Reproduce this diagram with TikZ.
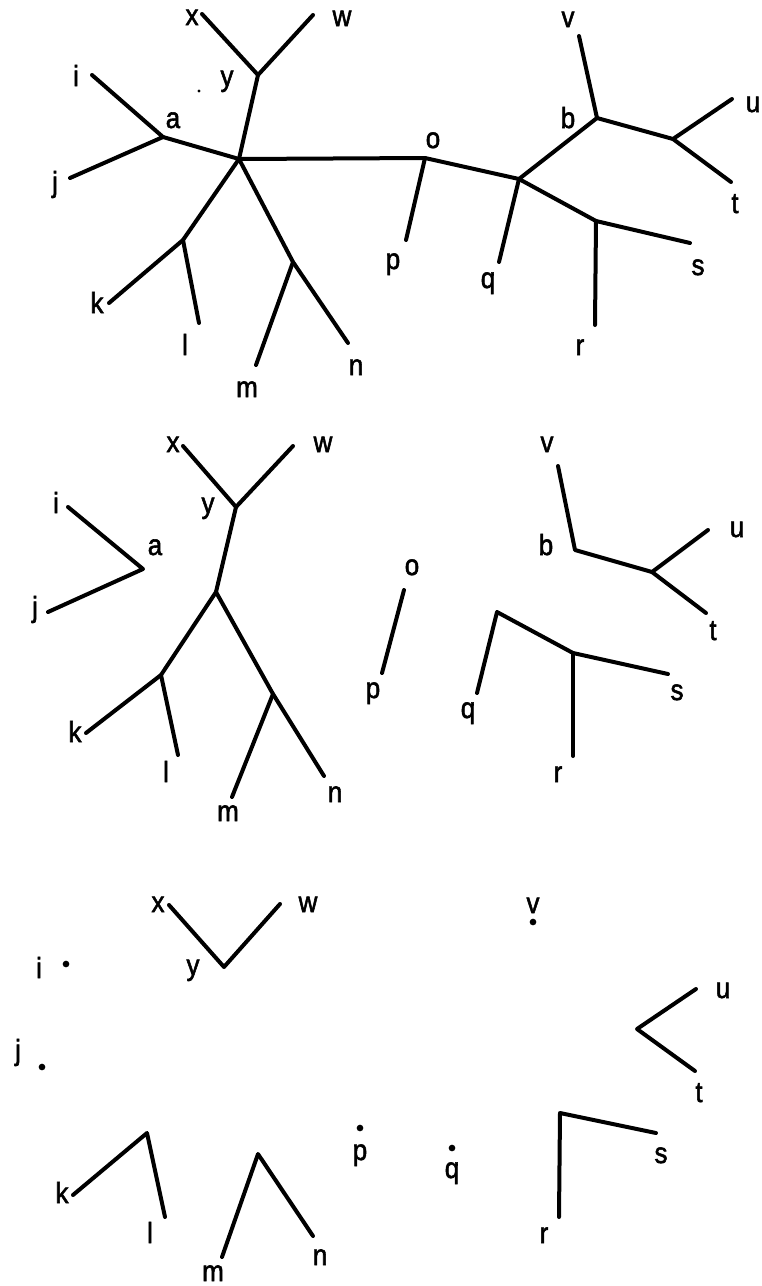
\documentclass[tikz,border=0pt]{standalone}
\usepackage{fontspec}
\setmainfont{Liberation Sans}
\newfontfamily\labfont{Liberation Sans}[FakeBold=2]
\newcommand{\tallx}[1]{\scalebox{1}[1.12]{#1}}
\begin{document}
\begin{tikzpicture}[x=0.75pt,y=-0.75pt,
  edge/.style={line width=3pt, line cap=round, line join=round},
  lab/.style={anchor=base, inner sep=0pt, font=\labfont\fontsize{19.5}{19.5}\selectfont},
  dotnode/.style={circle, fill=black, inner sep=0pt, minimum size=5pt},
  speck/.style={circle, fill=black, inner sep=0pt, minimum size=2.4pt}]
\useasboundingbox (0,0) rectangle (762,1286);

% ---------------- top tree ----------------
\coordinate (Ax) at (202,14);   \coordinate (Aw) at (313,15);
\coordinate (Ay) at (258,75);   \coordinate (Ac) at (239,159);
\coordinate (Ai) at (92,75);    \coordinate (Aa) at (163,137);
\coordinate (Aj) at (70,178);
\coordinate (Akl) at (183,240); \coordinate (Ak) at (109,303);
\coordinate (Al) at (199,323);
\coordinate (Amn) at (293,262); \coordinate (Am) at (256,365);
\coordinate (An) at (348,343);
\coordinate (Ao) at (425,158);  \coordinate (Ap) at (406,240);
\coordinate (AQ) at (519,179);  \coordinate (Aq) at (499,262);
\coordinate (Ab) at (597,118);  \coordinate (Av) at (579,36);
\coordinate (Aut) at (673,139); \coordinate (Au) at (732,99);
\coordinate (At) at (731,182);
\coordinate (Ars) at (596,221); \coordinate (As) at (690,243);
\coordinate (Ar) at (595,325);

\draw[edge] (Ax) -- (Ay) -- (Aw);
\draw[edge] (Ay) -- (Ac);
\draw[edge] (Ai) -- (Aa) -- (Aj);
\draw[edge] (Aa) -- (Ac);
\draw[edge] (Ac) -- (Akl) -- (Ak);
\draw[edge] (Akl) -- (Al);
\draw[edge] (Ac) -- (Amn) -- (Am);
\draw[edge] (Amn) -- (An);
\draw[edge] (Ac) -- (Ao) -- (Ap);
\draw[edge] (Ao) -- (AQ) -- (Aq);
\draw[edge] (AQ) -- (Ab) -- (Av);
\draw[edge] (Ab) -- (Aut) -- (Au);
\draw[edge] (Aut) -- (At);
\draw[edge] (AQ) -- (Ars) -- (As);
\draw[edge] (Ars) -- (Ar);
\node[speck] (Aspeck) at (199,91) {};

\node[lab] (LAx) at (192,25) {\tallx{x}};
\node[lab] (LAw) at (342,26) {\tallx{w}};
\node[lab] (LAi) at (76,86) {\tallx{i}};
\node[lab] (LAy) at (227,86) {\tallx{y}};
\node[lab] (LAa) at (173,128) {\tallx{a}};
\node[lab] (LAj) at (55,192) {\tallx{j}};
\node[lab] (LAk) at (97,313) {\tallx{k}};
\node[lab] (LAl) at (185,355) {\tallx{l}};
\node[lab] (LAm) at (247,397) {\tallx{m}};
\node[lab] (LAn) at (356,375) {\tallx{n}};
\node[lab] (LAo) at (433,148) {\tallx{o}};
\node[lab] (LAp) at (393,269) {\tallx{p}};
\node[lab] (LAq) at (488,288) {\tallx{q}};
\node[lab] (LAb) at (568,128) {\tallx{b}};
\node[lab] (LAv) at (568,27) {\tallx{v}};
\node[lab] (LAu) at (753,112) {\tallx{u}};
\node[lab] (LAt) at (735,213) {\tallx{t}};
\node[lab] (LAs) at (698,275) {\tallx{s}};
\node[lab] (LAr) at (580,355) {\tallx{r}};

% ---------------- middle ----------------
\coordinate (Bx) at (183,446);  \coordinate (Bw) at (293,446);
\coordinate (By) at (236,507);  \coordinate (Bc) at (216,592);
\coordinate (Bkl) at (161,675); \coordinate (Bk) at (86,733);
\coordinate (Bl) at (178,755);
\coordinate (Bmn) at (273,694); \coordinate (Bm) at (232,797);
\coordinate (Bn) at (324,776);
\coordinate (Bi) at (68,507);   \coordinate (Ba) at (143,569);
\coordinate (Bj) at (48,612);
\coordinate (Bo) at (404,590);  \coordinate (Bp) at (382,673);
\coordinate (Bv) at (558,466);  \coordinate (Bb) at (575,550);
\coordinate (But) at (652,572); \coordinate (Bu) at (708,530);
\coordinate (Bt) at (706,613);
\coordinate (BQ) at (497,612);  \coordinate (Bq) at (477,693);
\coordinate (Brs) at (573,653); \coordinate (Bs) at (668,674);
\coordinate (Br) at (573,756);

\draw[edge] (Bx) -- (By) -- (Bw);
\draw[edge] (By) -- (Bc);
\draw[edge] (Bc) -- (Bkl) -- (Bk);
\draw[edge] (Bkl) -- (Bl);
\draw[edge] (Bc) -- (Bmn) -- (Bm);
\draw[edge] (Bmn) -- (Bn);
\draw[edge] (Bi) -- (Ba) -- (Bj);
\draw[edge] (Bo) -- (Bp);
\draw[edge] (Bv) -- (Bb) -- (But) -- (Bu);
\draw[edge] (But) -- (Bt);
\draw[edge] (Bq) -- (BQ) -- (Brs) -- (Bs);
\draw[edge] (Brs) -- (Br);

\node[lab] (LBx) at (173,452) {\tallx{x}};
\node[lab] (LBw) at (323,452) {\tallx{w}};
\node[lab] (LBi) at (56,513) {\tallx{i}};
\node[lab] (LBy) at (208,513) {\tallx{y}};
\node[lab] (LBa) at (155,555) {\tallx{a}};
\node[lab] (LBj) at (35,617) {\tallx{j}};
\node[lab] (LBk) at (75,742) {\tallx{k}};
\node[lab] (LBl) at (166,782) {\tallx{l}};
\node[lab] (LBm) at (228,821) {\tallx{m}};
\node[lab] (LBn) at (335,802) {\tallx{n}};
\node[lab] (LBp) at (373,698) {\tallx{p}};
\node[lab] (LBo) at (412,575) {\tallx{o}};
\node[lab] (LBv) at (547,452) {\tallx{v}};
\node[lab] (LBb) at (546,555) {\tallx{b}};
\node[lab] (LBu) at (737,537) {\tallx{u}};
\node[lab] (LBt) at (713,640) {\tallx{t}};
\node[lab] (LBq) at (468,718) {\tallx{q}};
\node[lab] (LBs) at (677,700) {\tallx{s}};
\node[lab] (LBr) at (558,782) {\tallx{r}};

% ---------------- bottom ----------------
\coordinate (Cx) at (169,905);  \coordinate (Cw) at (280,904);
\coordinate (Cy) at (224,967);
\coordinate (Ckl) at (147,1133); \coordinate (Ck) at (73,1195);
\coordinate (Cl) at (165,1217);
\coordinate (Cmn) at (258,1154); \coordinate (Cm) at (222,1257);
\coordinate (Cn) at (313,1236);
\coordinate (Cut) at (637,1029); \coordinate (Cu) at (696,989);
\coordinate (Ct) at (695,1071);
\coordinate (Crs) at (560,1113); \coordinate (Cs) at (656,1133);
\coordinate (Cr) at (559,1217);

\draw[edge] (Cx) -- (Cy) -- (Cw);
\draw[edge] (Ck) -- (Ckl) -- (Cl);
\draw[edge] (Cm) -- (Cmn) -- (Cn);
\draw[edge] (Cu) -- (Cut) -- (Ct);
\draw[edge] (Cr) -- (Crs) -- (Cs);

\node[dotnode] (Ci) at (66,964) {};
\node[dotnode] (Cj) at (42,1067) {};
\node[dotnode] (Cp) at (360,1128) {};
\node[dotnode] (Cq) at (452,1148) {};
\node[dotnode] (Cv) at (533,922) {};

\node[lab] (LCx) at (158,912) {\tallx{x}};
\node[lab] (LCw) at (308,912) {\tallx{w}};
\node[lab] (LCi) at (39,978) {\tallx{i}};
\node[lab] (LCy) at (193,975) {\tallx{y}};
\node[lab] (LCj) at (18,1060) {\tallx{j}};
\node[lab] (LCk) at (62,1203) {\tallx{k}};
\node[lab] (LCl) at (150,1243) {\tallx{l}};
\node[lab] (LCm) at (213,1281) {\tallx{m}};
\node[lab] (LCn) at (320,1265) {\tallx{n}};
\node[lab] (LCp) at (360,1160) {\tallx{p}};
\node[lab] (LCv) at (533,913) {\tallx{v}};
\node[lab] (LCu) at (723,998) {\tallx{u}};
\node[lab] (LCt) at (699,1102) {\tallx{t}};
\node[lab] (LCs) at (661,1163) {\tallx{s}};
\node[lab] (LCq) at (452,1178) {\tallx{q}};
\node[lab] (LCr) at (544,1243) {\tallx{r}};
\end{tikzpicture}
\end{document}
